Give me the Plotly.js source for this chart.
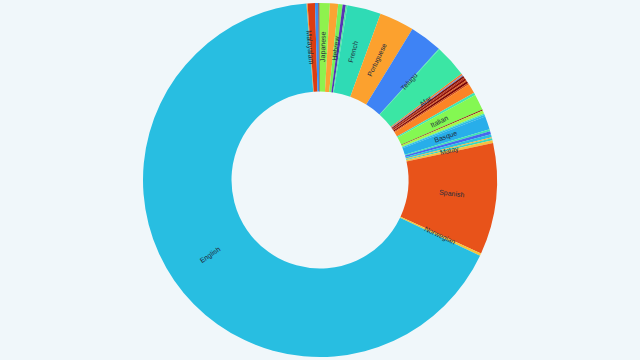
<!DOCTYPE html>
<html>
<head>
<meta charset="utf-8">
<script src="https://cdn.plot.ly/plotly-3.0.1.min.js"></script>
<style>html,body{margin:0;padding:0;background:#f0f7fa;}#chart{width:640px;height:360px;}</style>
</head>
<body>
<div id="chart"></div>
<script>
// Slice shares (percent), in clockwise order starting just left of 12 o'clock
const sliceValues = [0.10, 0.67, 0.31, 0.10, 0.94, 0.75, 0.40, 0.29, 0.14, 3.08,
  3.19, 2.97, 0.06, 2.97, 0.14, 0.11, 0.17, 0.11, 0.19, 0.11,
  0.19, 0.14, 0.89, 0.22, 1.47, 0.08, 0.31, 0.11, 0.17, 1.22,
  0.17, 0.28, 0.28, 0.11, 0.17, 0.25, 10.17, 0.22, 66.75];
// Visible labels (empty = no label drawn)
const sliceLabels = ["Malayalam", "", "", "", "Japanese", "", "Hebrew", "", "", "French",
  "Portuguese", "", "Telugu", "", "Afar", "", "", "", "", "",
  "", "", "", "", "Italian", "", "", "", "", "Basque",
  "", "", "", "", "", "Malay", "Spanish", "Norwegian", "English"];
const sliceColors = ["#f6a33a", "#dc3d12", "#3c8ff0", "#8c1a08", "#8ef24e", "#fba433", "#75f05c", "#5635b5", "#4fe6a0", "#2fdbb5",
  "#fca12e", "#3e83f5", "#3be6a4", "#3be6a4", "#f2792a", "#7c8ccc", "#7d0f06", "#c02d12", "#8f1007", "#e05a1c",
  "#7a0403", "#d24a16", "#fb8426", "#3fe6b3", "#84f852", "#901b0b", "#a6f648", "#43e8b5", "#2db9e6", "#28aeea",
  "#3ee4b0", "#4767ee", "#2bc0e0", "#f6b23a", "#35d9bb", "#f6c040", "#e8531a", "#f4c63a", "#28bee1"];

const W = 640, H = 360;
const margin = {l: 0, r: 0, t: 3, b: 3};
const holeFrac = 0.5;
const startRotation = -4.4;

const trace = {
  type: 'pie',
  values: sliceValues,
  textinfo: 'none',
  hole: holeFrac,
  sort: false,
  direction: 'clockwise',
  rotation: startRotation,
  marker: {colors: sliceColors, line: {width: 0}},
  hoverinfo: 'none'
};

// radial labels placed at each slice's middle angle, mid ring
const plotW = W - margin.l - margin.r, plotH = H - margin.t - margin.b;
const R = Math.min(plotW, plotH) / 2;
const rMid = R * (1 + holeFrac) / 2;
const total = sliceValues.reduce((a, b) => a + b, 0);
let cum = 0;
const annotations = [];
sliceValues.forEach((v, i) => {
  const mid = startRotation + (cum + v / 2) / total * 360;
  cum += v;
  if (!sliceLabels[i]) return;
  const a = mid * Math.PI / 180;
  const dxp = rMid * Math.sin(a), dyp = rMid * Math.cos(a);
  let m = ((mid % 360) + 360) % 360;
  const ang = m < 180 ? m - 90 : m - 270;
  annotations.push({
    xref: 'paper', yref: 'paper',
    x: 0.5 + dxp / plotW, y: 0.5 + dyp / plotH,
    text: sliceLabels[i], showarrow: false, textangle: ang,
    xanchor: 'center', yanchor: 'middle',
    font: {family: 'Liberation Sans, Arial, sans-serif', size: 7, color: '#1f2d3d'}
  });
});

const layout = {
  width: W, height: H,
  margin: margin,
  paper_bgcolor: '#f0f7fa',
  plot_bgcolor: '#f0f7fa',
  showlegend: false,
  annotations: annotations
};

Plotly.newPlot('chart', [trace], layout, {displayModeBar: false, staticPlot: true});
</script>
</body>
</html>
